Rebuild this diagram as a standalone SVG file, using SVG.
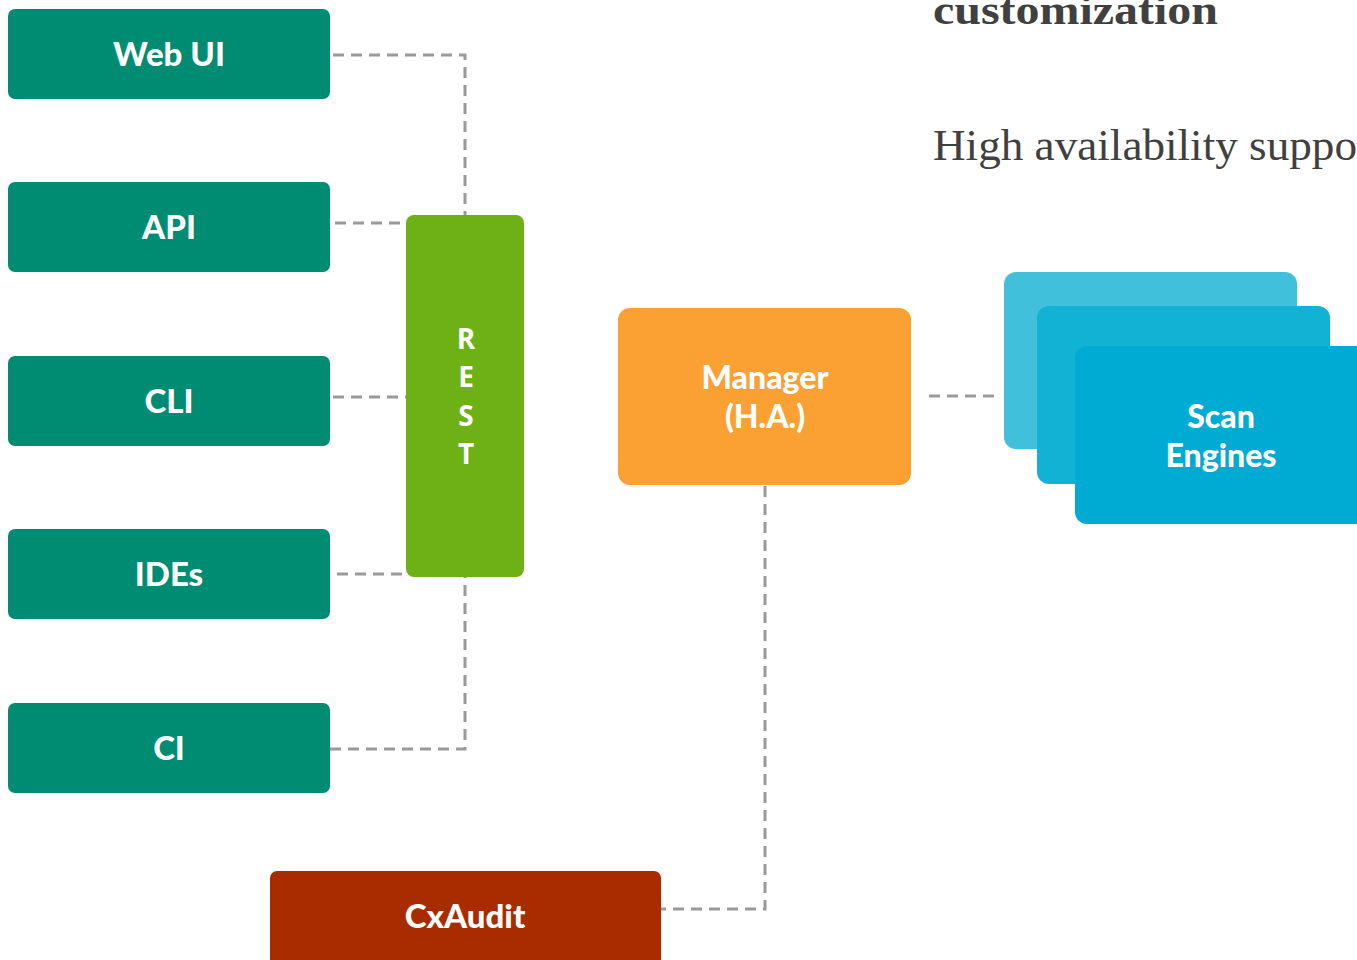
<svg xmlns="http://www.w3.org/2000/svg" width="1357" height="960" viewBox="0 0 1357 960">
<style>
.lbl{font-family:Lato,"Liberation Sans",sans-serif;font-weight:900;fill:#ffffff;text-anchor:middle}
.cl{fill:#008C72}
.conn{fill:none;stroke:#9a9a9a;stroke-width:3;stroke-dasharray:11,7}
.ser{font-family:"Liberation Serif",serif;fill:#404040}
.rl{font-family:"Open Sans","DejaVu Sans",sans-serif;font-weight:bold;fill:#ffffff;text-anchor:middle}
</style>
<rect width="1357" height="960" fill="#ffffff"/>
<text class="ser" x="933" y="24" font-size="43" font-weight="bold" textLength="285" lengthAdjust="spacingAndGlyphs">customization</text>
<text class="ser" x="933" y="160" font-size="44" textLength="424" lengthAdjust="spacingAndGlyphs">High availability suppo</text>
<g id="connectors">
<path class="conn" d="M333 55 H465 V215"/>
<path class="conn" d="M335 223 H406"/>
<path class="conn" d="M333 397 H406"/>
<path class="conn" d="M337 574 H406"/>
<path class="conn" d="M330 749 H465 V577"/>
<path class="conn" d="M929 396 H997"/>
<path class="conn" d="M765 486 V909 H661"/>
</g>
<g id="webui"><rect class="cl" x="8" y="9" width="322" height="90" rx="7"/><text class="lbl" x="169" y="66" font-size="33">Web UI</text></g>
<g id="api"><rect class="cl" x="8" y="182" width="322" height="90" rx="7"/><text class="lbl" x="169" y="239" font-size="33">API</text></g>
<g id="cli"><rect class="cl" x="8" y="356" width="322" height="90" rx="7"/><text class="lbl" x="169" y="413" font-size="33">CLI</text></g>
<g id="ides"><rect class="cl" x="8" y="529" width="322" height="90" rx="7"/><text class="lbl" x="169" y="586" font-size="33">IDEs</text></g>
<g id="ci"><rect class="cl" x="8" y="703" width="322" height="90" rx="7"/><text class="lbl" x="169" y="760" font-size="33">CI</text></g>
<g id="rest"><rect x="406" y="215" width="118" height="362" rx="8" fill="#6EB116"/>
<text class="rl" font-size="28" x="466" y="349">R</text>
<text class="rl" font-size="28" x="466" y="387">E</text>
<text class="rl" font-size="28" x="466" y="426">S</text>
<text class="rl" font-size="28" x="466" y="464">T</text></g>
<g id="manager"><rect x="618" y="308" width="293" height="177" rx="12" fill="#FBA033"/>
<text class="lbl" x="765" y="389" font-size="32">Manager</text>
<text class="lbl" x="765" y="428" font-size="32">(H.A.)</text></g>
<g id="scanengines">
<rect x="1004" y="272" width="293" height="177" rx="12" fill="#40C0DB"/>
<rect x="1037" y="306" width="293" height="178" rx="12" fill="#12B2D4"/>
<rect x="1075" y="346" width="300" height="178" rx="12" fill="#00ABD3"/>
<text class="lbl" x="1221" y="428" font-size="32">Scan</text>
<text class="lbl" x="1221" y="467" font-size="32">Engines</text></g>
<g id="cxaudit"><rect x="270" y="871" width="391" height="100" rx="7" fill="#A92C00"/><text class="lbl" x="465" y="928" font-size="33">CxAudit</text></g>
</svg>
